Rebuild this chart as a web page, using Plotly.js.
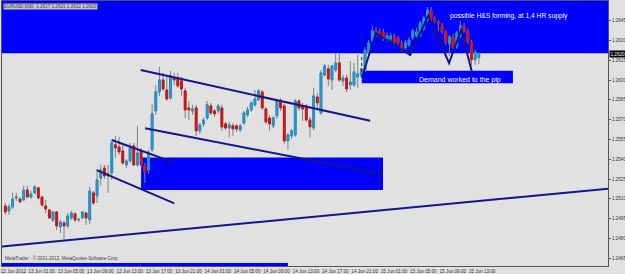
<!DOCTYPE html>
<html>
<head>
<meta charset="utf-8">
<script src="https://cdn.plot.ly/plotly-3.0.1.min.js"></script>
<style>
html,body{margin:0;padding:0;background:#e0e0e0;}
#chart{width:625px;height:274px;}
</style>
</head>
<body>
<div id="chart"></div>
<script>
// EURUSD M30, bars from 12 Jun 2012 22:00 onward (index = bar number)
const openP = [1.25046,1.25008,1.25039,1.25107,1.25099,1.25092,1.25167,1.25114,1.25145,1.25183,
1.25114,1.25046,1.25016,1.24940,1.25001,1.24887,1.24917,1.24895,1.24955,1.24986,
1.24940,1.24955,1.24993,1.24940,1.25145,1.25122,1.25258,1.25334,1.25289,1.25296,
1.25509,1.25493,1.25463,1.25357,1.25387,1.25501,1.25357,1.25463,1.25349,1.25319,
1.25471,1.25766,1.25910,1.26001,1.25925,1.25865,1.26016,1.26016,1.25994,1.25918,
1.25789,1.25766,1.25789,1.25615,1.25668,1.25713,1.25804,1.25766,1.25766,1.25789,
1.25668,1.25637,1.25653,1.25653,1.25622,1.25675,1.25736,1.25774,1.25812,1.25850,
1.25910,1.25781,1.25713,1.25653,1.25728,1.25842,1.25804,1.25539,1.25577,1.25584,
1.25842,1.25804,1.25804,1.25698,1.25637,1.25872,1.25751,1.26039,1.26085,1.26001,
1.26077,1.26130,1.25994,1.26016,1.25963,1.25963,1.26024,1.26032,1.26077,1.26206,
1.26297,1.26373,1.26365,1.26365,1.26304,1.26312,1.26327,1.26320,1.26274,1.26244,
1.26267,1.26320,1.26335,1.26335,1.26388,1.26456,1.26524,1.26464,1.26441,1.26411,
1.26365,1.26274,1.26327,1.26251,1.26335,1.26411,1.26373,1.26289,1.26153,1.2617];
const highP = [1.25069,1.25061,1.25145,1.25145,1.25114,1.25198,1.25198,1.25160,1.25205,1.25190,
1.25122,1.25092,1.25023,1.25008,1.25008,1.24940,1.24932,1.24993,1.25008,1.25001,
1.24955,1.25008,1.25001,1.25190,1.25160,1.25319,1.25357,1.25357,1.25357,1.25546,
1.25577,1.25569,1.25524,1.25402,1.25524,1.25524,1.25653,1.25486,1.25372,1.25471,
1.25819,1.25963,1.26100,1.26054,1.26039,1.26069,1.26054,1.26054,1.26024,1.25941,
1.25842,1.25812,1.25812,1.25675,1.25713,1.25842,1.25827,1.25781,1.25819,1.25812,
1.25683,1.25683,1.25675,1.25668,1.25668,1.25766,1.25797,1.25842,1.25925,1.25933,
1.25925,1.25797,1.25736,1.25728,1.25857,1.25865,1.25819,1.25600,1.25630,1.25857,
1.25857,1.25827,1.25819,1.25721,1.25941,1.25903,1.26077,1.26123,1.26115,1.26115,
1.26206,1.26198,1.26039,1.26039,1.26145,1.26130,1.26191,1.26092,1.26251,1.26304,
1.26411,1.26403,1.26395,1.26388,1.26358,1.26358,1.26350,1.26335,1.26297,1.26304,
1.26327,1.26388,1.26395,1.26448,1.26486,1.26555,1.26555,1.26486,1.26456,1.26433,
1.26380,1.26342,1.26350,1.26373,1.26448,1.26433,1.26388,1.26304,1.26229,1.2621];
const lowP = [1.24978,1.24978,1.25023,1.25084,1.25069,1.25084,1.25107,1.25099,1.25137,1.25099,
1.25039,1.24993,1.24948,1.24925,1.24864,1.24842,1.24796,1.24879,1.24940,1.24925,
1.24925,1.24948,1.24902,1.24910,1.25054,1.25069,1.25198,1.25251,1.25145,1.25243,
1.25410,1.25433,1.25357,1.25334,1.25372,1.25349,1.25342,1.25342,1.25221,1.25289,
1.25455,1.25736,1.25880,1.25918,1.25842,1.25850,1.25956,1.25941,1.25880,1.25713,
1.25698,1.25736,1.25577,1.25592,1.25645,1.25698,1.25736,1.25721,1.25744,1.25615,
1.25622,1.25562,1.25577,1.25607,1.25607,1.25660,1.25721,1.25759,1.25797,1.25842,
1.25774,1.25668,1.25615,1.25637,1.25706,1.25766,1.25516,1.25471,1.25554,1.25569,
1.25766,1.25690,1.25683,1.25562,1.25622,1.25789,1.25736,1.26024,1.25956,1.25925,
1.26062,1.25986,1.25956,1.25910,1.25925,1.25948,1.25941,1.26016,1.26062,1.26191,
1.26282,1.26327,1.26327,1.26297,1.26289,1.26297,1.26274,1.26267,1.26214,1.26229,
1.26251,1.26304,1.26320,1.26327,1.26373,1.26441,1.26448,1.26433,1.26373,1.26350,
1.26267,1.26183,1.26236,1.26236,1.26320,1.26358,1.26274,1.26107,1.26115,1.2612];
const closeP = [1.25001,1.25039,1.25099,1.25114,1.25077,1.25167,1.25114,1.25137,1.25190,1.25107,
1.25054,1.25023,1.24955,1.25001,1.24895,1.24925,1.24895,1.24970,1.24993,1.24940,
1.24944,1.25001,1.24955,1.25160,1.25069,1.25243,1.25319,1.25274,1.25274,1.25524,
1.25486,1.25455,1.25372,1.25387,1.25486,1.25357,1.25448,1.25357,1.25304,1.25455,
1.25744,1.25910,1.26001,1.25933,1.25857,1.26032,1.26001,1.25956,1.25933,1.25774,
1.25774,1.25781,1.25615,1.25660,1.25698,1.25812,1.25751,1.25744,1.25804,1.25645,
1.25637,1.25660,1.25630,1.25630,1.25653,1.25751,1.25774,1.25827,1.25857,1.25918,
1.25789,1.25683,1.25668,1.25713,1.25842,1.25789,1.25539,1.25584,1.25615,1.25842,
1.25789,1.25781,1.25698,1.25645,1.25880,1.25827,1.26054,1.26107,1.26009,1.26107,
1.26130,1.26001,1.26016,1.25933,1.25986,1.26062,1.26047,1.26085,1.26229,1.26282,
1.26373,1.26342,1.26342,1.26312,1.26335,1.26335,1.26289,1.26282,1.26229,1.26282,
1.26304,1.26373,1.26365,1.26433,1.26471,1.26532,1.26464,1.26448,1.26426,1.26365,
1.26282,1.26327,1.26244,1.26358,1.26411,1.26373,1.26289,1.26153,1.26214,1.2620];

// time axis labels and the bar each belongs to
const timeLabels = ["12 Jun 2012","13 Jun 01:00","13 Jun 05:00","13 Jun 09:00","13 Jun 13:00","13 Jun 17:00","13 Jun 21:00",
"14 Jun 01:00","14 Jun 05:00","14 Jun 09:00","14 Jun 13:00","14 Jun 17:00","14 Jun 21:00",
"15 Jun 01:00","15 Jun 05:00","15 Jun 09:00","15 Jun 13:00"];
const labelBars = [-1.7,6,14,22,30,38,46,54,62,70,78,86,94,102,110,118,126];

// price scale labels
const priceTicks = [1.2465,1.2480,1.2495,1.2510,1.2525,1.2540,1.2555,1.2570,1.2585,1.2600,1.2615,1.2630,1.2645,1.2660];

const bars = openP.map((_, i) => i);
const bodyHigh = openP.map((o, i) => Math.max(o, closeP[i]));
const bodyLow = openP.map((o, i) => Math.min(o, closeP[i]));

const wickGray = '#808080';
const upCol = '#1ea0dc';
const dnCol = '#e01414';

const wicks = {
  type: 'candlestick', x: bars, open: openP, high: highP, low: lowP, close: closeP,
  increasing: {line: {color: wickGray, width: 1}, fillcolor: wickGray},
  decreasing: {line: {color: wickGray, width: 1}, fillcolor: wickGray},
  whiskerwidth: 0, hoverinfo: 'skip', showlegend: false
};
const bodies = {
  type: 'candlestick', x: bars, open: openP, high: bodyHigh, low: bodyLow, close: closeP,
  increasing: {line: {color: '#1a90c8', width: 0.9}, fillcolor: upCol},
  decreasing: {line: {color: '#c81010', width: 0.9}, fillcolor: dnCol},
  whiskerwidth: 0, hoverinfo: 'skip', showlegend: false
};

const navy = '#15158a';
const blue = '#0000ff';
const shapes = [
  // supply zone at top
  {type:'rect', xref:'paper', yref:'y', x0:0, x1:1, y0:1.26203, y1:1.26599, fillcolor:blue, line:{width:0}, layer:'below'},
  // demand zone 13 Jun
  {type:'rect', xref:'x', yref:'y', x0:37.0, x1:102.9, y0:1.25167, y1:1.25413, fillcolor:blue, line:{width:0}, layer:'below'},
  // demand zone 15 Jun
  {type:'rect', xref:'x', yref:'y', x0:97.1, x1:138.3, y0:1.25976, y1:1.26071, fillcolor:blue, line:{width:0}, layer:'below'},
  // strip at bottom
  {type:'rect', xref:'x', yref:'y', x0:-0.9, x1:77.0, y0:1.24591, y1:1.24613, fillcolor:blue, line:{width:0}, layer:'below'},
  // long rising trend line
  {type:'line', xref:'x', yref:'y', x0:-0.9, y0:1.24739, x1:164.2, y1:1.25177, line:{color:navy, width:2}},
  // falling channel (13-14 Jun)
  {type:'line', xref:'x', yref:'y', x0:36.9, y0:1.26076, x1:99.4, y1:1.25691, line:{color:navy, width:2}},
  {type:'line', xref:'x', yref:'y', x0:38.1, y0:1.25634, x1:102.9, y1:1.25287, line:{color:navy, width:2}},
  // small channel (13 Jun morning)
  {type:'line', xref:'x', yref:'y', x0:29.0, y0:1.25546, x1:46.05, y1:1.25374, line:{color:navy, width:2}},
  {type:'line', xref:'x', yref:'y', x0:24.9, y0:1.25318, x1:46.05, y1:1.25066, line:{color:navy, width:2}},
  // H&S zigzag
  {type:'path', xref:'x', yref:'y',
   path:'M97.2,1.26023 L101.0,1.26357 L110.3,1.26190 L115.2,1.26486 L120.9,1.26129 L124.2,1.26380 L127.2,1.26054',
   line:{color:navy, width:2}},
  // dotted vertical marker
  {type:'line', xref:'x', yref:'y', x0:97.1, x1:97.1, y0:1.26016, y1:1.26357, line:{color:'#303030', width:1, dash:'dot'}}
];

const annotations = [
  {xref:'x', yref:'y', x:137.2, y:1.26486, text:'possible H&S forming, at 1,4 HR supply', showarrow:false,
   font:{family:'Liberation Sans, Arial, sans-serif', size:6.7, color:'#ffffff'}},
  {xref:'x', yref:'y', x:124.0, y:1.26000, text:'Demand worked to the pip', showarrow:false,
   font:{family:'Liberation Sans, Arial, sans-serif', size:7, color:'#ffffff'}},
  {xref:'paper', yref:'paper', x:0.002, y:0.993, xanchor:'left', yanchor:'top', text:'EURUSD,M30  1.2617 1.2621 1.2612 1.2620',
   showarrow:false, bgcolor:'#c4c4c4', borderpad:0,
   font:{family:'Liberation Sans, Arial, sans-serif', size:4.6, color:'#404040'}},
  {xref:'paper', yref:'paper', x:0.002, y:0.012, xanchor:'left', yanchor:'bottom', text:'MetaTrader - © 2001-2012, MetaQuotes Software Corp.',
   showarrow:false, font:{family:'Liberation Sans, Arial, sans-serif', size:4.6, color:'#404040'}},
  {xref:'paper', yref:'y', x:1.0, y:closeP[closeP.length-1], xanchor:'left', yanchor:'middle', xshift:1,
   text:closeP[closeP.length-1].toFixed(4), showarrow:false, bgcolor:'#000000', borderpad:0.5,
   font:{family:'Liberation Sans, Arial, sans-serif', size:4.6, color:'#ffffff'}}
];

const layout = {
  width:625, height:274,
  margin:{l:2, r:17, t:1, b:8, pad:0},
  paper_bgcolor:'#e0e0e0', plot_bgcolor:'#e1e1e1',
  showlegend:false,
  xaxis:{
    range:[-0.9, 164.2], rangeslider:{visible:false}, showgrid:false, zeroline:false,
    tickmode:'array', tickvals: labelBars.map(b => b + 3.9), ticktext: timeLabels,
    ticklabeloverflow:'allow',
    tickfont:{family:'Liberation Sans, Arial, sans-serif', size:4.6, color:'#333333'},
    ticks:'', showline:true, linecolor:'#555555', linewidth:1, mirror:true, tickangle:0
  },
  yaxis:{
    range:[1.24591, 1.26599], side:'right', showgrid:false, zeroline:false,
    tickmode:'array', tickvals: priceTicks, tickformat:'.4f', ticklabeloverflow:'allow',
    tickfont:{family:'Liberation Sans, Arial, sans-serif', size:4.6, color:'#333333'},
    ticks:'outside', ticklen:2, tickcolor:'#555555',
    showline:true, linecolor:'#555555', linewidth:1, mirror:true
  },
  shapes: shapes,
  annotations: annotations
};

Plotly.newPlot('chart', [wicks, bodies], layout, {staticPlot:true, displayModeBar:false});
</script>
</body>
</html>
